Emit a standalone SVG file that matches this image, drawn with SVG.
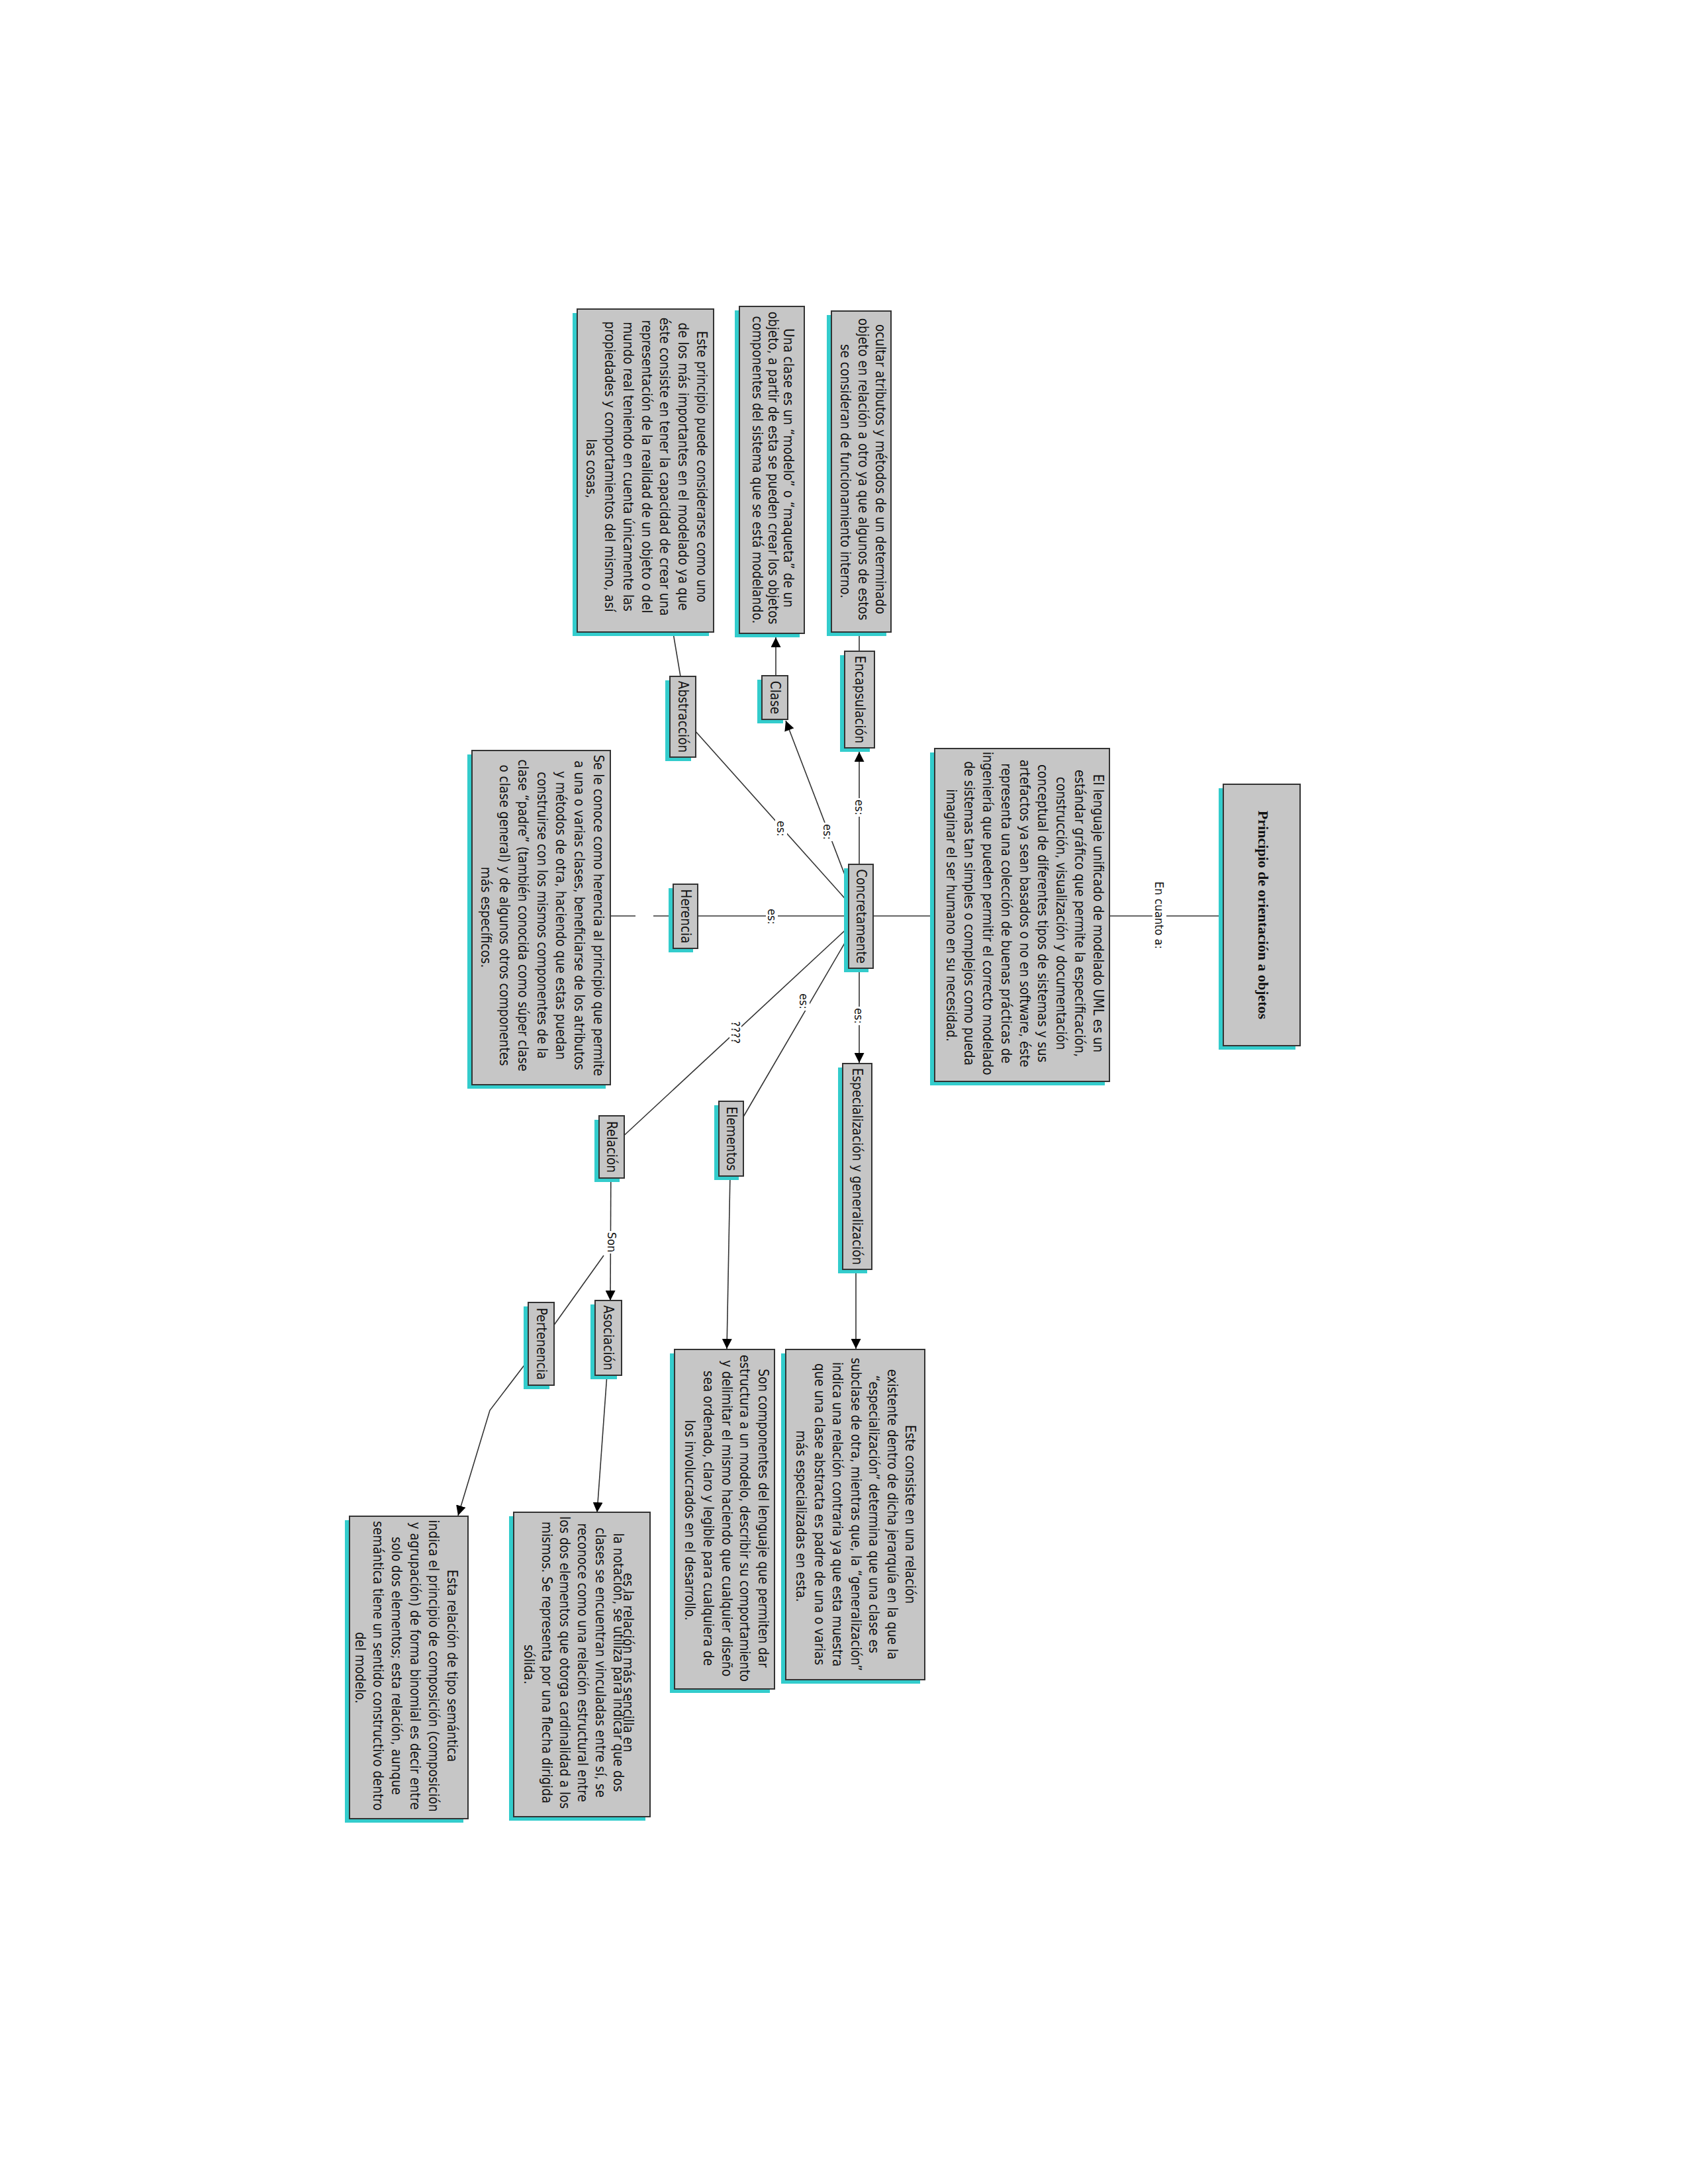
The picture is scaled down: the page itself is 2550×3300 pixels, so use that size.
<svg xmlns="http://www.w3.org/2000/svg" width="2550" height="3300" viewBox="0 0 2550 3300">
<defs>
<style>
.sh{fill:#33CCCC}
.bx{fill:#C6C6C6;stroke:#333;stroke-width:2}
.t{font-family:'DejaVu Sans Condensed','DejaVu Sans',sans-serif;font-stretch:condensed;font-size:20.5px;fill:#111;text-anchor:middle}
.lb{font-family:'DejaVu Sans Condensed','DejaVu Sans',sans-serif;font-stretch:condensed;font-size:18px;fill:#111;text-anchor:middle}
.ttl{font-family:'Liberation Serif','Times New Roman',serif;font-weight:bold;font-size:22px;fill:#111;text-anchor:middle}
.c{stroke:#333;stroke-width:1.6;fill:none}
.bg{fill:#fff}
</style>
<marker id="ar" markerUnits="userSpaceOnUse" markerWidth="15" markerHeight="15" refX="15" refY="7.5" orient="auto">
<path d="M0,0 L15,7.5 L0,15 z" fill="#000"/>
</marker>
</defs>
<rect width="2550" height="3300" fill="#fff"/>

<g id="connectors">
<line class="c" x1="1905" y1="1384" x2="1544" y2="1384"/>
<line class="c" x1="1300" y1="1384" x2="1544" y2="1384"/>
<line class="c" x1="1298" y1="1384" x2="1298" y2="1136" marker-end="url(#ar)"/>
<line class="c" x1="1298" y1="1057" x2="1298" y2="712"/>
<line class="c" x1="1300" y1="1384" x2="1187" y2="1089" marker-end="url(#ar)"/>
<line class="c" x1="1172" y1="1054" x2="1172" y2="963" marker-end="url(#ar)"/>
<line class="c" x1="1300" y1="1384" x2="1031" y2="1083"/>
<line class="c" x1="1031" y1="1040" x2="1015" y2="945"/>
<line class="c" x1="1300" y1="1384" x2="1036" y2="1384"/>
<line class="c" x1="1036" y1="1384" x2="987" y2="1384"/>
<line class="c" x1="960" y1="1384" x2="818" y2="1384"/>
<line class="c" x1="1298" y1="1384" x2="1298" y2="1606" marker-end="url(#ar)"/>
<line class="c" x1="1293" y1="1762" x2="1293" y2="2038" marker-end="url(#ar)"/>
<line class="c" x1="1300" y1="1384" x2="1104" y2="1720"/>
<line class="c" x1="1104" y1="1720" x2="1098" y2="2038" marker-end="url(#ar)"/>
<line class="c" x1="1300" y1="1384" x2="924" y2="1733"/>
<line class="c" x1="923" y1="1733" x2="922" y2="1965" marker-end="url(#ar)"/>
<line class="c" x1="912" y1="1897" x2="817" y2="2030"/>
<polyline class="c" points="817,2030 740,2131 692,2290" marker-end="url(#ar)"/>
<line class="c" x1="921" y1="2021" x2="902" y2="2285" marker-end="url(#ar)"/>
</g>

<g id="labels">
<rect class="bg" x="1741" y="1332" width="21" height="102"/>
<text class="lb" transform="translate(1745,1383) rotate(90)">En cuanto a:</text>
<rect class="bg" x="1289" y="1206" width="18" height="28"/>
<text class="lb" transform="translate(1292,1220) rotate(90)">es:</text>
<rect class="bg" x="1241" y="1243" width="18" height="28"/>
<text class="lb" transform="translate(1244,1257) rotate(90)">es:</text>
<rect class="bg" x="1171" y="1238" width="18" height="28"/>
<text class="lb" transform="translate(1174,1252) rotate(90)">es:</text>
<rect class="bg" x="1157" y="1371" width="18" height="28"/>
<text class="lb" transform="translate(1160,1385) rotate(90)">es:</text>
<rect class="bg" x="1288" y="1521" width="18" height="28"/>
<text class="lb" transform="translate(1291,1535) rotate(90)">es:</text>
<rect class="bg" x="1205" y="1499" width="18" height="28"/>
<text class="lb" transform="translate(1208,1513) rotate(90)">es:</text>
<rect class="bg" x="1102" y="1540" width="18" height="40"/>
<text class="lb" transform="translate(1105,1560) rotate(90)">????</text>
<rect class="bg" x="915" y="1860" width="18" height="34"/>
<text class="lb" transform="translate(918,1877) rotate(90)">Son</text>
</g>

<g id="n-title">
<rect class="sh" x="1841" y="1191" width="116" height="395"/>
<rect class="bx" x="1848" y="1185" width="116" height="395"/>
<text class="ttl" transform="translate(1901,1382.5) rotate(90)">Principio de orientación a objetos</text>
</g>

<g id="n-uml">
<rect class="sh" x="1405" y="1137" width="264" height="503"/>
<rect class="bx" x="1412" y="1131" width="264" height="503"/>
<text class="t" transform="translate(1651.5,1383) rotate(90)">
<tspan x="0" y="0">El lenguaje unificado de modelado UML es un</tspan>
<tspan x="0" dy="27.75">estándar gráfico que permite la especificación,</tspan>
<tspan x="0" dy="27.75">construcción, visualización y documentación</tspan>
<tspan x="0" dy="27.75">conceptual de diferentes tipos de sistemas y sus</tspan>
<tspan x="0" dy="27.75">artefactos ya sean basados o no en software, éste</tspan>
<tspan x="0" dy="27.75">representa una colección de buenas prácticas de</tspan>
<tspan x="0" dy="27.75">ingeniería que pueden permitir el correcto modelado</tspan>
<tspan x="0" dy="27.75">de sistemas tan simples o complejos como pueda</tspan>
<tspan x="0" dy="27.75">imaginar el ser humano en su necesidad.</tspan>
</text>
</g>

<g id="n-concretamente">
<rect class="sh" x="1275" y="1312" width="37" height="157"/>
<rect class="bx" x="1282" y="1306" width="37" height="157"/>
<text class="t" transform="translate(1293.5,1384.5) rotate(90)">Concretamente</text>
</g>

<g id="n-encapsulacion">
<rect class="sh" x="1269" y="990" width="45" height="146"/>
<rect class="bx" x="1276" y="984" width="45" height="146"/>
<text class="t" transform="translate(1292,1057) rotate(90)">Encapsulación</text>
</g>

<g id="n-encapsulacion-def">
<rect class="sh" x="1249" y="476" width="90" height="485"/>
<rect class="bx" x="1256" y="470" width="90" height="485"/>
<text class="t" transform="translate(1323,712) rotate(90)">
<tspan x="0" y="0">ocultar atributos y métodos de un determinado</tspan>
<tspan x="0" dy="26.5">objeto en relación a otro ya que algunos de estos</tspan>
<tspan x="0" dy="26.5">se consideran de funcionamiento interno.</tspan>
</text>
</g>

<g id="n-clase">
<rect class="sh" x="1144" y="1027" width="39" height="66"/>
<rect class="bx" x="1151" y="1021" width="39" height="66"/>
<text class="t" transform="translate(1163.5,1054) rotate(90)">Clase</text>
</g>

<g id="n-clase-def">
<rect class="sh" x="1110" y="469" width="98" height="494"/>
<rect class="bx" x="1117" y="463" width="98" height="494"/>
<text class="t" transform="translate(1184,710) rotate(90)">
<tspan x="0" y="0">Una clase es un “modelo” o “maqueta” de un</tspan>
<tspan x="0" dy="23.5">objeto, a partir de esta se pueden crear los objetos</tspan>
<tspan x="0" dy="23.5">componentes del sistema que se está modelando.</tspan>
</text>
</g>

<g id="n-abstraccion">
<rect class="sh" x="1005" y="1028" width="39" height="122"/>
<rect class="bx" x="1012" y="1022" width="39" height="122"/>
<text class="t" transform="translate(1024.5,1083) rotate(90)">Abstracción</text>
</g>

<g id="n-abstraccion-def">
<rect class="sh" x="865" y="473" width="206" height="488"/>
<rect class="bx" x="872" y="467" width="206" height="488"/>
<text class="t" transform="translate(1053,708) rotate(90)">
<tspan x="0" y="0">Este principio puede considerarse como uno</tspan>
<tspan x="0" dy="27.8">de los más importantes en el modelado ya que</tspan>
<tspan x="0" dy="27.8">éste consiste en tener la capacidad de crear una</tspan>
<tspan x="0" dy="27.8">representación de la realidad de un objeto o del</tspan>
<tspan x="0" dy="27.8">mundo real teniendo en cuenta únicamente las</tspan>
<tspan x="0" dy="27.8">propiedades y comportamientos del mismo, así</tspan>
<tspan x="0" dy="27.8">las cosas,</tspan>
</text>
</g>

<g id="n-herencia">
<rect class="sh" x="1010" y="1342" width="37" height="97"/>
<rect class="bx" x="1017" y="1336" width="37" height="97"/>
<text class="t" transform="translate(1028.5,1384.5) rotate(90)">Herencia</text>
</g>

<g id="n-herencia-def">
<rect class="sh" x="706" y="1140" width="209" height="505"/>
<rect class="bx" x="713" y="1134" width="209" height="505"/>
<text class="t" transform="translate(896.5,1386) rotate(90)">
<tspan x="0" y="0">Se le conoce como herencia al principio que permite</tspan>
<tspan x="0" dy="28.3">a una o varias clases, beneficiarse de los atributos</tspan>
<tspan x="0" dy="28.3">y métodos de otra, haciendo que estas puedan</tspan>
<tspan x="0" dy="28.3">construirse con los mismos componentes de la</tspan>
<tspan x="0" dy="28.3">clase “padre” (también conocida como súper clase</tspan>
<tspan x="0" dy="28.3">o clase general) y de algunos otros componentes</tspan>
<tspan x="0" dy="28.3">más específicos.</tspan>
</text>
</g>

<g id="n-especializacion">
<rect class="sh" x="1266" y="1613" width="44" height="311"/>
<rect class="bx" x="1273" y="1607" width="44" height="311"/>
<text class="t" transform="translate(1288,1762.5) rotate(90)">Especialización  y  generalización</text>
</g>

<g id="n-especializacion-def">
<rect class="sh" x="1180" y="2045" width="210" height="499"/>
<rect class="bx" x="1187" y="2039" width="210" height="499"/>
<text class="t" transform="translate(1368,2291) rotate(90)">
<tspan x="0" y="0">Este consiste en una relación</tspan>
<tspan x="0" dy="27.5">existente dentro de dicha jerarquía en la que la</tspan>
<tspan x="0" dy="27.5">“especialización” determina que una clase es</tspan>
<tspan x="0" dy="27.5">subclase de otra, mientras que, la “generalización”</tspan>
<tspan x="0" dy="27.5">indica una relación contraria ya que esta muestra</tspan>
<tspan x="0" dy="27.5">que una clase abstracta es padre de una o varias</tspan>
<tspan x="0" dy="27.5">más especializadas en esta.</tspan>
</text>
</g>

<g id="n-elementos">
<rect class="sh" x="1079" y="1670" width="37" height="113"/>
<rect class="bx" x="1086" y="1664" width="37" height="113"/>
<text class="t" transform="translate(1097.5,1720.5) rotate(90)">Elementos</text>
</g>

<g id="n-elementos-def">
<rect class="sh" x="1012" y="2045" width="151" height="513"/>
<rect class="bx" x="1019" y="2039" width="151" height="513"/>
<text class="t" transform="translate(1146,2297) rotate(90)">
<tspan x="0" y="0">Son componentes del lenguaje que permiten dar</tspan>
<tspan x="0" dy="27.7">estructura a un modelo, describir su comportamiento</tspan>
<tspan x="0" dy="27.7">y delimitar el mismo haciendo que cualquier diseño</tspan>
<tspan x="0" dy="27.7">sea ordenado, claro y legible para cualquiera de</tspan>
<tspan x="0" dy="27.7">los involucrados en el desarrollo.</tspan>
</text>
</g>

<g id="n-relacion">
<rect class="sh" x="898" y="1692" width="38" height="94"/>
<rect class="bx" x="905" y="1686" width="38" height="94"/>
<text class="t" transform="translate(917,1733) rotate(90)">Relación</text>
</g>

<g id="n-asociacion">
<rect class="sh" x="892" y="1971" width="40" height="113"/>
<rect class="bx" x="899" y="1965" width="40" height="113"/>
<text class="t" transform="translate(912,2021.5) rotate(90)">Asociación</text>
</g>

<g id="n-pertenencia">
<rect class="sh" x="791" y="1974" width="39" height="125"/>
<rect class="bx" x="798" y="1968" width="39" height="125"/>
<text class="t" transform="translate(810.5,2030.5) rotate(90)">Pertenencia</text>
</g>

<g id="n-asociacion-def">
<rect class="sh" x="769" y="2291" width="206" height="460"/>
<rect class="bx" x="776" y="2285" width="206" height="460"/>
<text class="t" transform="translate(941.5,2515) rotate(90)">
<tspan x="0" y="0">es la relación más sencilla en</tspan>
<tspan x="0" dy="15">la notación, se utiliza para indicar que dos</tspan>
<tspan x="0" dy="27">clases se encuentran vinculadas entre sí, se</tspan>
<tspan x="0" dy="27">reconoce como una relación estructural entre</tspan>
<tspan x="0" dy="27">los dos elementos que otorga cardinalidad a los</tspan>
<tspan x="0" dy="27">mismos. Se representa por una flecha dirigida</tspan>
<tspan x="0" dy="27">sólida.</tspan>
</text>
</g>

<g id="n-pertenencia-def">
<rect class="sh" x="521" y="2297" width="179" height="457"/>
<rect class="bx" x="528" y="2291" width="179" height="457"/>
<text class="t" transform="translate(675.5,2520) rotate(90)">
<tspan x="0" y="0">Esta relación de tipo semántica</tspan>
<tspan x="0" dy="27.8">indica el principio de composición (composición</tspan>
<tspan x="0" dy="27.8">y agrupación) de forma binomial es decir entre</tspan>
<tspan x="0" dy="27.8">solo dos elementos; esta relación, aunque</tspan>
<tspan x="0" dy="27.8">semántica tiene un sentido constructivo dentro</tspan>
<tspan x="0" dy="27.8">del modelo.</tspan>
</text>
</g>
</svg>
